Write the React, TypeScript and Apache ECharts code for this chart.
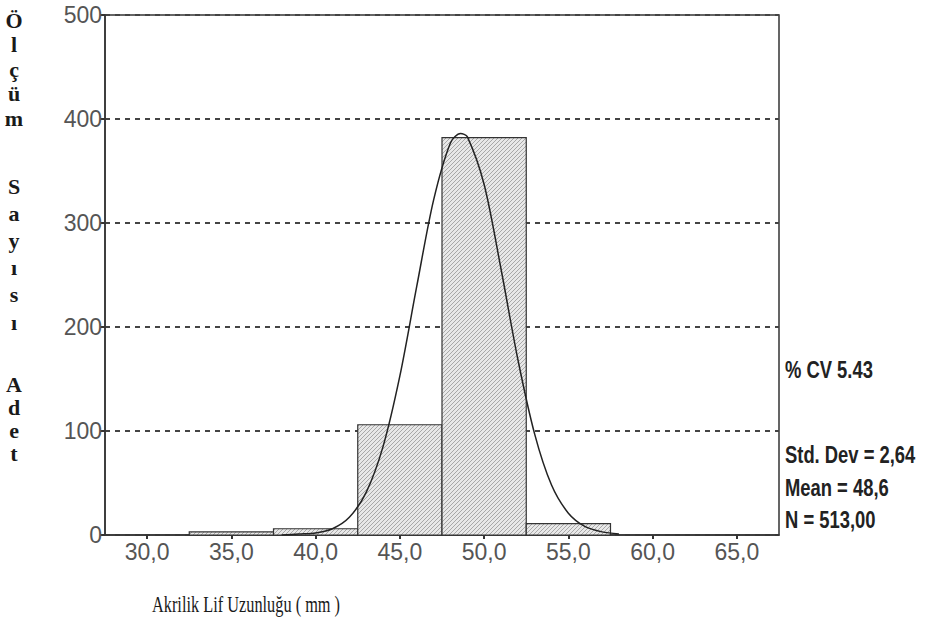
import React, { useEffect, useRef } from "react";
import * as echarts from "echarts";

// Histogram bins: [start, end, count]
const binStarts = [32.5, 37.5, 42.5, 47.5, 52.5];
const binEnds = [37.5, 42.5, 47.5, 52.5, 57.5];
const binCounts = [3, 6, 106, 382, 11];

// Normal curve points: [x, count]
const curveX = [38, 39, 40, 41, 42, 43, 44, 45, 46, 47, 48, 48.6, 49, 50, 51, 52, 53, 54, 55, 56, 57, 58];
const curveY = [0, 1, 2, 6, 17, 41, 85, 153, 239, 322, 377, 386, 383, 337, 256, 169, 97, 48, 21, 8, 3, 1];

const xTickValues = [30, 35, 40, 45, 50, 55, 60, 65];
const yTickValues = [0, 100, 200, 300, 400, 500];

const statsLines = ["% CV 5.43", "Std. Dev = 2,64", "Mean = 48,6", "N = 513,00"];
const yTitleBlocks = [
  ["Ö", "l", "ç", "ü", "m"],
  ["S", "a", "y", "ı", "s", "ı"],
  ["A", "d", "e", "t"],
];
const xTitle = "Akrilik Lif Uzunluğu ( mm )";

const hatchSvg =
  '<svg xmlns="http://www.w3.org/2000/svg" width="4" height="4">' +
  '<rect width="4" height="4" fill="#e8e8e8"/>' +
  '<path d="M0,4 L4,0 M-1,1 L1,-1 M3,5 L5,3" stroke="#939393" stroke-width="0.75"/>' +
  "</svg>";
const hatchUrl = "data:image/svg+xml;charset=utf-8," + encodeURIComponent(hatchSvg);

export default function App() {
  const ref = useRef<HTMLDivElement>(null);

  useEffect(() => {
    if (!ref.current) return;
    const chart = echarts.init(ref.current, null, { renderer: "svg" });

    const binData = binStarts.map((s, i) => [s, binEnds[i], binCounts[i]]);
    const curveData = curveX.map((x, i) => [x, curveY[i]]);

    const serif = "Liberation Serif";
    const sans = "Liberation Sans";

    const yTitleTexts: any[] = [];
    const blockCenters = [20, 186, 384];
    const blockLH = [24.5, 27.2, 23.2];
    yTitleBlocks.forEach((blk, b) => {
      blk.forEach((ch, i) => {
        yTitleTexts.push({
          type: "text",
          x: 14,
          y: blockCenters[b] + i * blockLH[b],
          style: {
            text: ch,
            fontSize: 22,
            fontFamily: serif,
            fontWeight: "bold",
            fill: "#1a1a1a",
            align: "center",
            verticalAlign: "middle",
          },
        });
      });
    });

    const statCenters = [370, 455, 488, 520];
    const statTexts = statsLines.map((t, i) => ({
      type: "text",
      x: 785,
      y: statCenters[i],
      scaleX: 0.8,
      style: {
        text: t,
        fontSize: 23,
        fontFamily: sans,
        fontWeight: "bold",
        fill: "#222",
        verticalAlign: "middle",
      },
    }));

    chart.setOption({
      animation: false,
      backgroundColor: "#fff",
      grid: {
        left: 105,
        right: 169,
        top: 15,
        bottom: 91,
        show: true,
        borderColor: "#333",
        borderWidth: 1.5,
        backgroundColor: "transparent",
      },
      xAxis: {
        type: "value",
        min: 27.5,
        max: 67.5,
        axisLine: { show: true, lineStyle: { color: "#333", width: 1.5 } },
        axisTick: {
          show: true,
          customValues: xTickValues,
          length: 4,
          lineStyle: { color: "#333", width: 2 },
        },
        axisLabel: {
          customValues: xTickValues,
          formatter: (v: number) => v.toFixed(1).replace(".", ","),
          color: "#555",
          fontSize: 23,
          fontFamily: sans,
          margin: 5,
        },
        splitLine: { show: false },
      },
      yAxis: {
        type: "value",
        min: 0,
        max: 500,
        interval: 100,
        axisLine: { show: true, lineStyle: { color: "#333", width: 1.5 } },
        axisTick: { show: true, length: 5, lineStyle: { color: "#333", width: 2 } },
        axisLabel: {
          customValues: yTickValues,
          color: "#555",
          fontSize: 23,
          fontFamily: sans,
          margin: 3,
        },
        splitLine: {
          show: true,
          lineStyle: { color: "#444", type: [5, 5], width: 1.8 },
        },
      },
      series: [
        {
          type: "custom",
          data: binData,
          encode: { x: [0, 1], y: 2 },
          z: 3,
          renderItem: (params: any, api: any) => {
            const p0 = api.coord([api.value(0), api.value(2)]);
            const p1 = api.coord([api.value(1), 0]);
            return {
              type: "rect",
              shape: { x: p0[0], y: p0[1], width: p1[0] - p0[0], height: p1[1] - p0[1] },
              style: {
                fill: { image: hatchUrl, repeat: "repeat", imageWidth: 4, imageHeight: 4 },
                stroke: "#333",
                lineWidth: 1.2,
              },
            };
          },
        },
        {
          type: "line",
          data: curveData,
          smooth: 0.3,
          showSymbol: false,
          z: 5,
          lineStyle: { color: "#222", width: 1.5 },
        },
      ],
      graphic: [
        ...yTitleTexts,
        ...statTexts,
        {
          type: "text",
          x: 152,
          y: 604,
          scaleX: 0.68,
          style: {
            text: xTitle,
            fontSize: 24,
            fontFamily: serif,
            fill: "#1a1a1a",
            verticalAlign: "middle",
          },
        },
      ],
    });

    return () => chart.dispose();
  }, []);

  return (
    <div
      ref={ref}
      style={{ position: "fixed", left: 0, top: 0, width: 948, height: 626, background: "#fff" }}
    />
  );
}
